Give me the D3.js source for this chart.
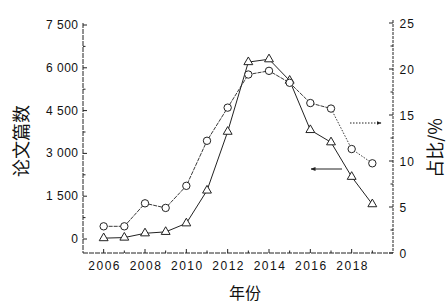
<!DOCTYPE html>
<html><head><meta charset="utf-8">
<script src="https://cdn.jsdelivr.net/npm/d3@7"></script>
<style>body{margin:0;background:#fff}</style>
</head><body>
<svg id="c" width="447" height="305"></svg>
<script>
const years = [2006,2007,2008,2009,2010,2011,2012,2013,2014,2015,2016,2017,2018,2019];
const papers = [30,50,200,250,550,1700,3760,6200,6300,5550,3820,3390,2180,1220];
const share = [2.9,2.9,5.4,4.9,7.3,12.2,15.8,19.4,19.8,18.5,16.3,15.7,11.3,9.75];
const leftTicks = [0,1500,3000,4500,6000,7500];
const leftTickLabels = ["0","1 500","3 000","4 500","6 000","7 500"];
const rightTicks = [0,5,10,15,20,25];
const xTicks = [2006,2008,2010,2012,2014,2016,2018];

const svg = d3.select("#c");
const x = d3.scaleLinear().domain([2005,2020]).range([83,393]);
const yL = d3.scaleLinear().domain([0,7500]).range([239,25]);
const yR = d3.scaleLinear().domain([0,25]).range([253,23]);
const ink = "#222";
const bottom = 253;
const numFont = "Liberation Sans, Arial";

// axes lines
svg.append("line").attr("x1",83).attr("x2",83).attr("y1",23).attr("y2",bottom).attr("stroke",ink).attr("stroke-width",1).attr("stroke-dasharray","5,1");
svg.append("line").attr("x1",393).attr("x2",393).attr("y1",20).attr("y2",bottom).attr("stroke",ink).attr("stroke-width",1).attr("stroke-dasharray","3,1");
svg.append("line").attr("x1",83).attr("x2",393).attr("y1",bottom).attr("y2",bottom).attr("stroke",ink).attr("stroke-width",1).attr("stroke-dasharray","5,1");

// left ticks
const lt = d3.range(0,7501,750);
svg.selectAll(".ltk").data(lt).join("line").attr("x1",83).attr("x2",d=>d%1500===0?87:85.5)
  .attr("y1",d=>yL(d)).attr("y2",d=>yL(d)).attr("stroke",ink);
svg.selectAll(".ltl").data(leftTicks).join("text").attr("x",78.5).attr("y",d=>yL(d)+4)
  .attr("text-anchor","end").attr("font-family",numFont).attr("font-size",12).attr("letter-spacing",0.5)
  .attr("fill","#111").text((d,i)=>leftTickLabels[i]);
// right ticks
const rt = d3.range(0,25.01,2.5);
svg.selectAll(".rtk").data(rt).join("line").attr("x1",393).attr("x2",d=>d%5===0?389:390.5)
  .attr("y1",d=>yR(d)).attr("y2",d=>yR(d)).attr("stroke",ink);
svg.selectAll(".rtl").data(rightTicks).join("text").attr("x",399.5).attr("y",d=>yR(d)+4.5)
  .attr("font-family",numFont).attr("font-size",12).attr("letter-spacing",1).attr("fill","#111").text(d=>d);
// bottom ticks
const bt = d3.range(2006,2020,1);
svg.selectAll(".btk").data(bt).join("line").attr("x1",d=>x(d)).attr("x2",d=>x(d))
  .attr("y1",bottom).attr("y2",d=>d%2===0?bottom-4:bottom-2.5).attr("stroke",ink);
svg.selectAll(".btl").data(xTicks).join("text").attr("x",d=>x(d)+1).attr("y",bottom+16.5)
  .attr("text-anchor","middle").attr("font-family",numFont).attr("font-size",12).attr("letter-spacing",1.5)
  .attr("fill","#111").text(d=>d);

// titles
svg.append("text").attr("transform","translate(28,141) rotate(-90)").attr("text-anchor","middle")
  .attr("font-family","Noto Sans CJK SC").attr("font-size",18).attr("fill","#111").text("论文篇数");
svg.append("text").attr("transform","translate(442,148) rotate(-90)").attr("text-anchor","middle")
  .attr("font-family","Noto Sans CJK SC").attr("font-size",18).attr("fill","#111").text("占比/%");
svg.append("text").attr("x",245).attr("y",299).attr("text-anchor","middle")
  .attr("font-family","Noto Sans CJK SC").attr("font-size",16).attr("fill","#111").text("年份");

// series lines
const lineP = d3.line().x((d,i)=>x(years[i])).y(d=>yL(d));
const lineS = d3.line().x(d=>x(d[0])).y(d=>yR(d[1]));
const sharePts = years.map((y,i)=>[y,share[i]]);
svg.append("path").attr("d",lineP(papers)).attr("fill","none").attr("stroke",ink).attr("stroke-width",1);
svg.append("path").attr("d",lineS(sharePts.slice(0,12))).attr("fill","none").attr("stroke",ink).attr("stroke-width",0.9).attr("stroke-dasharray","4,1");
svg.append("path").attr("d",lineS(sharePts.slice(11))).attr("fill","none").attr("stroke",ink).attr("stroke-width",0.9).attr("stroke-dasharray","1.5,1.5");

// markers
const tri = d3.symbol().type(d3.symbolTriangle).size(34);
svg.selectAll(".tri").data(papers).join("path").attr("d",tri)
  .attr("transform",(d,i)=>`translate(${x(years[i])},${yL(d)})`).attr("fill","#fff").attr("stroke",ink).attr("stroke-width",1);
svg.selectAll(".cir").data(share).join("circle").attr("cx",(d,i)=>x(years[i])).attr("cy",d=>yR(d))
  .attr("r",3.7).attr("fill","#fff").attr("stroke",ink).attr("stroke-width",1);

// arrows
const defs = svg.append("defs");
defs.append("marker").attr("id","ah").attr("viewBox","0 0 10 10").attr("refX",9).attr("refY",5)
  .attr("markerWidth",5).attr("markerHeight",5).attr("orient","auto")
  .append("path").attr("d","M0,1 L10,5 L0,9 Z").attr("fill",ink);
svg.append("line").attr("x1",350).attr("x2",381).attr("y1",123).attr("y2",123).attr("stroke",ink)
  .attr("stroke-width",1).attr("stroke-dasharray","1.5,1.5").attr("marker-end","url(#ah)");
svg.append("line").attr("x1",342).attr("x2",311).attr("y1",169).attr("y2",169).attr("stroke",ink)
  .attr("stroke-width",1).attr("marker-end","url(#ah)");
</script>
</body></html>
